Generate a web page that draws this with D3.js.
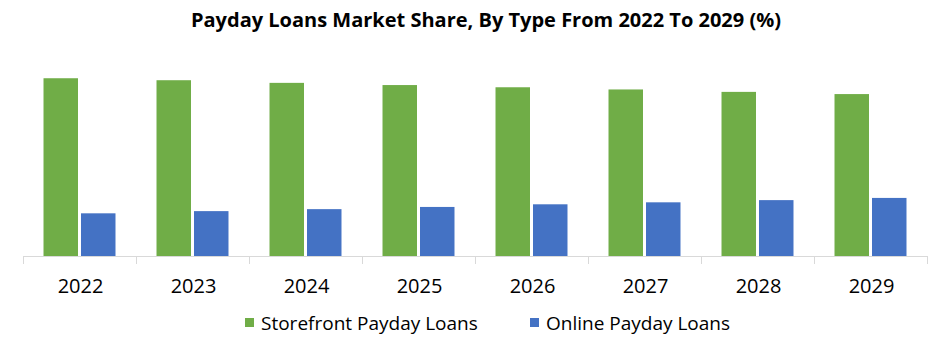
<!DOCTYPE html>
<html lang="en">

<head>
    <meta charset="UTF-8" />
    <title>Payday Loans Market Share</title>
    <script src="https://cdn.jsdelivr.net/npm/d3@7"></script>
    <style>
        body { margin: 0; background: #fff; }
        text { font-family: "Open Sans", "Noto Sans", sans-serif; fill: #000; }
    </style>
</head>

<body>
</body>

</html>
<script>
    // chart data
    let years = ["2022", "2023", "2024", "2025", "2026", "2027", "2028", "2029"];
    let seriesNames = ["Storefront Payday Loans", "Online Payday Loans"];
    let storefront = [80.8, 79.9, 78.7, 77.7, 76.7, 75.7, 74.6, 73.6];
    let online = [19.4, 20.4, 21.3, 22.3, 23.5, 24.4, 25.4, 26.4];
    let colors = ["#70ad47", "#4472c4"];

    let w = 941;
    let h = 344;
    let plotLeft = 23, plotRight = 927, plotTop = 36, plotBottom = 256;

    let svg = d3.select("body").append("svg")
        .attr("width", w)
        .attr("height", h);

    // rows for the grouped bars
    let rows = years.map(function (y, i) {
        return { year: y, values: [storefront[i], online[i]] };
    });

    let x0 = d3.scaleBand()
        .domain(years)
        .range([plotLeft, plotRight])
        .paddingInner(0.363)
        .paddingOuter(0.1815);

    let x1 = d3.scaleBand()
        .domain([0, 1])
        .range([0, x0.bandwidth()])
        .paddingInner(0.08);

    let y = d3.scaleLinear()
        .domain([0, 100])
        .range([plotBottom, plotTop]);

    // title
    svg.append("text")
        .attr("x", 486)
        .attr("y", 27)
        .attr("text-anchor", "middle")
        .style("font-size", "20px")
        .style("font-weight", "bold")
        .text("Payday Loans Market Share, By Type From 2022 To 2029 (%)");

    // bars
    let groups = svg.selectAll(".group")
        .data(rows)
        .enter().append("g")
        .attr("class", "group")
        .attr("transform", function (d) { return "translate(" + x0(d.year) + ",0)"; });

    groups.selectAll("rect")
        .data(function (d) { return d.values; })
        .enter().append("rect")
        .attr("x", function (d, i) { return x1(i); })
        .attr("y", function (d) { return y(d); })
        .attr("width", x1.bandwidth())
        .attr("height", function (d) { return plotBottom - y(d); })
        .attr("fill", function (d, i) { return colors[i]; });

    // x axis: ticks sit between the bands like in excel
    let step = x0.step();
    svg.append("line")
        .attr("x1", plotLeft).attr("x2", plotRight)
        .attr("y1", plotBottom + 0.5).attr("y2", plotBottom + 0.5)
        .attr("stroke", "#d9d9d9");

    svg.selectAll(".tick")
        .data(d3.range(years.length + 1))
        .enter().append("line")
        .attr("class", "tick")
        .attr("x1", function (i) { return Math.round(plotLeft + i * step) + 0.5; })
        .attr("x2", function (i) { return Math.round(plotLeft + i * step) + 0.5; })
        .attr("y1", plotBottom)
        .attr("y2", plotBottom + 8)
        .attr("stroke", "#d9d9d9");

    svg.selectAll(".label")
        .data(years)
        .enter().append("text")
        .attr("class", "label")
        .attr("x", function (d) { return x0(d) + x0.bandwidth() / 2 + 1; })
        .attr("y", 293)
        .attr("text-anchor", "middle")
        .style("font-size", "20px")
        .text(function (d) { return d; });

    // legend
    let legendX = [245, 530];
    let legend = svg.selectAll(".legend")
        .data(seriesNames)
        .enter().append("g")
        .attr("class", "legend")
        .attr("transform", function (d, i) { return "translate(" + legendX[i] + ",318)"; });

    legend.append("rect")
        .attr("width", 9)
        .attr("height", 9)
        .attr("fill", function (d, i) { return colors[i]; });

    legend.append("text")
        .attr("x", 16)
        .attr("y", 12)
        .style("font-size", "19px")
        .text(function (d) { return d; });
</script>
